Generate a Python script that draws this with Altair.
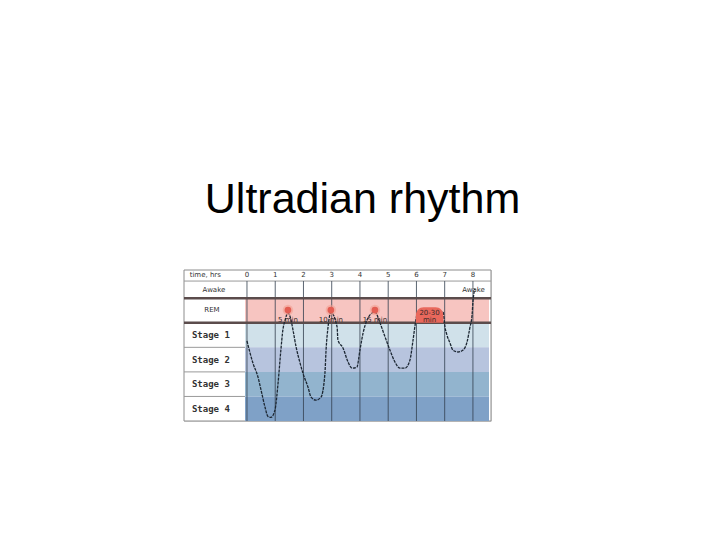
import altair as alt
import pandas as pd

# ---------------- data ----------------
hours = [0, 1, 2, 3, 4, 5, 6, 7, 8]

# hypnogram curve: time (hours) and depth level (0 Awake, 1 REM, 2..5 Stage 1..4)
curve_hours = [0.00, 0.21, 0.39, 0.50, 0.64, 0.74, 0.85, 0.99, 1.10, 1.20, 1.27, 1.35,
               1.45, 1.56, 1.63, 1.74, 1.88, 1.98, 2.16, 2.27, 2.44, 2.62, 2.76, 2.80,
               2.87, 2.97, 3.19, 3.22, 3.40, 3.58, 3.72, 3.89, 4.00, 4.11, 4.25, 4.43,
               4.53, 4.71, 4.89, 5.06, 5.24, 5.42, 5.59, 5.77, 5.88, 5.98, 6.05, 6.48,
               6.94, 7.01, 7.08, 7.19, 7.29, 7.47, 7.65, 7.79, 7.89, 7.97, 8.00, 8.07]
curve_levels = [2.24, 3.14, 3.71, 4.25, 4.94, 5.31, 5.35, 5.06, 3.96, 2.61, 1.80, 1.39,
                1.10, 1.39, 1.80, 2.49, 3.14, 3.55, 4.12, 4.53, 4.65, 4.53, 3.55, 2.61,
                1.67, 1.08, 1.67, 2.20, 2.53, 3.10, 3.35, 3.31, 2.61, 1.92, 1.39, 1.10,
                1.06, 1.51, 2.08, 2.61, 3.10, 3.35, 3.35, 3.02, 2.20, 1.39, 1.06, 0.98,
                1.06, 1.67, 2.00, 2.33, 2.61, 2.69, 2.61, 2.29, 1.71, 1.18, 0.65, 0.12]

rem_peak_hours = [1.45, 2.97, 4.53]
rem_peak_labels = ["5 min", "10 min", "15 min"]
rem_long_start = [5.98]
rem_long_end = [6.95]
rem_long_label = [["20-30", "min"]]

row_names = ["Awake", "REM", "Stage 1", "Stage 2", "Stage 3", "Stage 4"]
row_top = [-0.2, 0.5, 1.5, 2.5, 3.5, 4.5]
row_bottom = [0.5, 1.5, 2.5, 3.5, 4.5, 5.5]
row_colors = ["#ffffff", "#f7c5c1", "#d0e1ea", "#b7c4de", "#92b4ce", "#7fa1c7"]

# ---------------- frame geometry (in scale units) ----------------
X_MIN, X_MAX = -2.23, 8.64       # whole box incl. label column
PLOT_X0, PLOT_X1 = -0.07, 8.57   # coloured plot region
Y_MIN, Y_MAX = -0.65, 5.5

xs = alt.Scale(domain=[X_MIN, X_MAX], nice=False, zero=False)
ys = alt.Scale(domain=[Y_MIN, Y_MAX], nice=False, zero=False, reverse=True)


def X(f):
    return alt.X(f, type="quantitative", scale=xs, axis=None)


def Y(f):
    return alt.Y(f, type="quantitative", scale=ys, axis=None)


# white box with border
box = alt.Chart(pd.DataFrame({"x": [X_MIN], "x2": [X_MAX], "y": [Y_MIN], "y2": [Y_MAX]})).mark_rect(
    fill="#ffffff", stroke="#8c8c8c", strokeWidth=1
).encode(x=X("x"), x2="x2", y=Y("y"), y2="y2")

rows_df = pd.DataFrame({"name": row_names, "top": row_top, "bottom": row_bottom, "color": row_colors,
                        "x0": PLOT_X0, "x1": PLOT_X1})
bands = alt.Chart(rows_df).mark_rect().encode(
    x=X("x0"), x2="x1", y=Y("top"), y2="bottom",
    color=alt.Color("color:N", scale=None)
)

# thin separators
thin_df = pd.DataFrame({
    "x0": [X_MIN, X_MIN, X_MIN, X_MIN],
    "x1": [X_MAX, PLOT_X0, PLOT_X0, PLOT_X0],
    "y": [-0.2, 2.5, 3.5, 4.5],
})
thin = alt.Chart(thin_df).mark_rule(color="#9a9a9a", strokeWidth=1).encode(
    x=X("x0"), x2="x1", y=Y("y")
)

# hour gridlines
grid_df = pd.DataFrame({"h": hours, "y0": -0.2, "y1": Y_MAX})
grid = alt.Chart(grid_df).mark_rule(color="#33404f", strokeWidth=1, opacity=0.8).encode(
    x=X("h"), y=Y("y0"), y2="y1"
)

# thick REM row borders
thick_df = pd.DataFrame({"x0": [X_MIN, X_MIN], "x1": [X_MAX, X_MAX], "y": [0.5, 1.5]})
thick = alt.Chart(thick_df).mark_rule(color="#5b4c4c", strokeWidth=2.5).encode(
    x=X("x0"), x2="x1", y=Y("y")
)

# curve
curve_df = pd.DataFrame({"h": curve_hours, "lvl": curve_levels})
curve = alt.Chart(curve_df).mark_line(
    color="#1c2733", strokeWidth=1.3, interpolate="monotone", strokeDash=[3, 1]
).encode(x=X("h"), y=Y("lvl"))

# REM markers
peaks_df = pd.DataFrame({"h": rem_peak_hours, "label": rem_peak_labels, "y": 0.98, "ty": 1.38})
halo = alt.Chart(peaks_df).mark_point(filled=True, color="#f29c8e", size=110, opacity=0.55).encode(
    x=X("h"), y=Y("y")
)
dots = alt.Chart(peaks_df).mark_point(filled=True, color="#e35d52", size=45, opacity=1).encode(
    x=X("h"), y=Y("y")
)
peak_text = alt.Chart(peaks_df).mark_text(
    font="DejaVu Sans", fontSize=7, color="#3a2a2a", baseline="middle"
).encode(x=X("h"), y=Y("ty"), text="label:N")

long_df = pd.DataFrame({"x0": rem_long_start, "x1": rem_long_end, "top": [0.87], "bottom": [1.5],
                        "label": rem_long_label})
long_df["xm"] = (long_df["x0"] + long_df["x1"]) / 2
long_df["ty"] = 1.12
long_rect = alt.Chart(long_df).mark_rect(
    color="#e9685c", cornerRadiusTopLeft=10, cornerRadiusTopRight=10
).encode(x=X("x0"), x2="x1", y=Y("top"), y2="bottom")
long_text = alt.Chart(long_df).mark_text(
    font="DejaVu Sans", fontSize=7, color="#3a2a2a", baseline="middle", lineHeight=7
).encode(x=X("xm"), y=Y("ty"), text="label")

# hour labels
hour_df = pd.DataFrame({"h": hours, "y": -0.43, "t": [str(h) for h in hours]})
hour_text = alt.Chart(hour_df).mark_text(
    font="DejaVu Sans", fontSize=7, color="#333333", baseline="middle"
).encode(x=X("h"), y=Y("y"), text="t:N")

# left column labels
stage_df = pd.DataFrame({"t": row_names[2:], "x": -1.95, "y": [2.0, 3.0, 4.0, 5.0]})
stage_text = alt.Chart(stage_df).mark_text(
    font="DejaVu Sans Mono", fontSize=9, fontWeight="bold", color="#333333", align="left", baseline="middle"
).encode(x=X("x"), y=Y("y"), text="t:N")

misc_df = pd.DataFrame({
    "t": ["time, hrs", "Awake", "REM", "Awake"],
    "x": [-2.03, -1.17, -1.24, 8.02],
    "y": [-0.43, 0.16, 0.97, 0.18],
})
misc_left = alt.Chart(misc_df.iloc[[0]]).mark_text(
    font="DejaVu Sans", fontSize=7, color="#333333", align="left", baseline="middle"
).encode(x=X("x"), y=Y("y"), text="t:N")
misc_center = alt.Chart(misc_df.iloc[1:]).mark_text(
    font="DejaVu Sans", fontSize=7, color="#333333", align="center", baseline="middle"
).encode(x=X("x"), y=Y("y"), text="t:N")

chart = alt.layer(
    box, bands, thin, grid, thick, curve, long_rect, halo, dots,
    peak_text, long_text, hour_text, stage_text, misc_left, misc_center
).properties(
    width=307,
    height=151,
    padding={"left": 176, "top": 262, "right": 221, "bottom": 111},
    autosize=alt.AutoSizeParams(type="none"),
    title=alt.TitleParams(
        "Ultradian rhythm", font="Liberation Sans", fontSize=43, fontWeight="normal",
        color="#000000", anchor="middle", dx=25, offset=14, baseline="alphabetic"
    ),
).configure_view(stroke=None).configure(background="#ffffff")

chart.save("out.html", embed_options={"renderer": "svg", "actions": False})
